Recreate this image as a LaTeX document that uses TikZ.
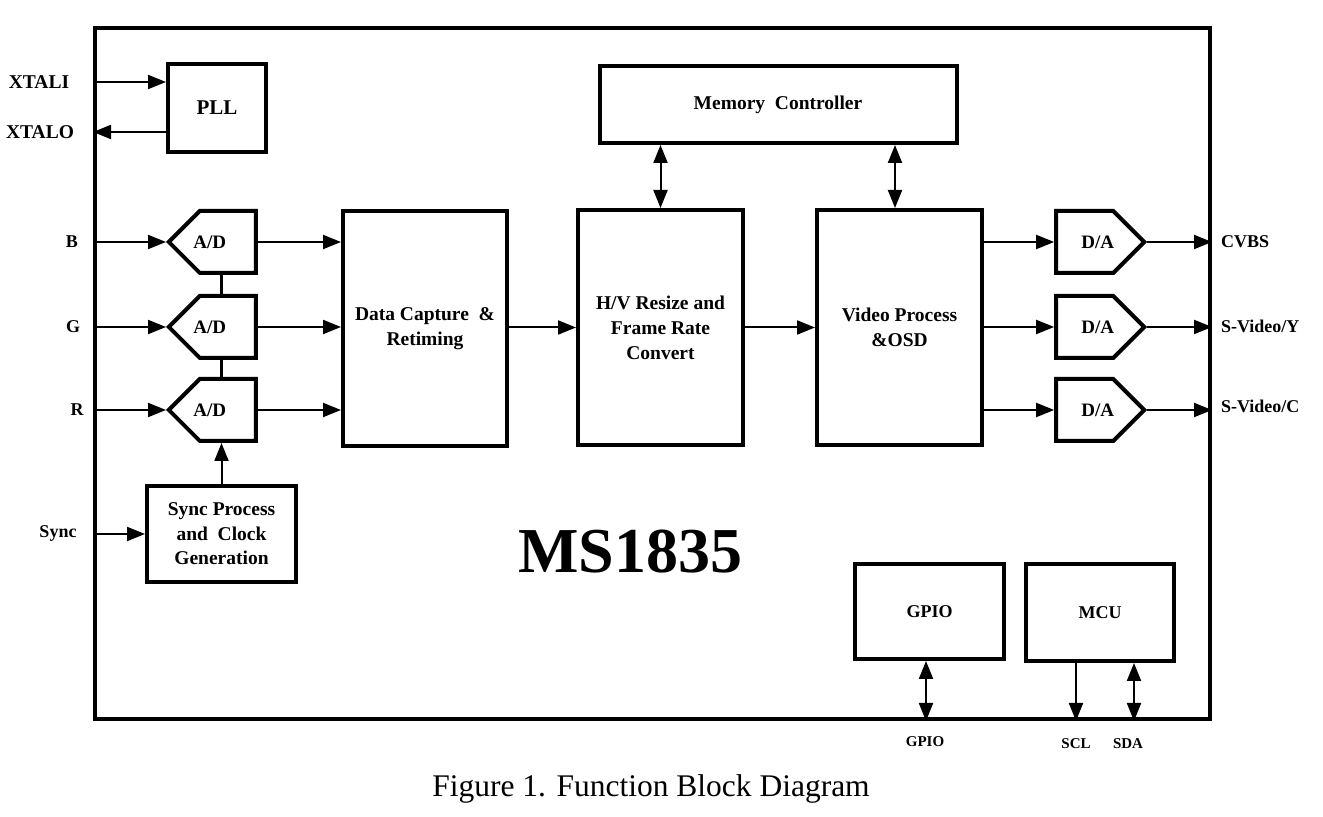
\documentclass[tikz,border=0pt]{standalone}
\usepackage{fontspec}
\setmainfont{Liberation Serif}
\usetikzlibrary{positioning,shapes.symbols,arrows.meta}

\tikzset{
  blk/.style={draw, rectangle, line width=2pt, align=center, font=\fontsize{9.75}{12.5}\selectfont\bfseries},
  conv/.style={draw, signal, line width=2pt, signal pointer angle=90, minimum width=43.5pt, minimum height=31pt},
  convtxt/.style={font=\fontsize{9.5}{11}\selectfont\bfseries},
  pin/.style={font=\fontsize{9}{11}\selectfont\bfseries},
  conn/.style={line width=1pt, -{Triangle[length=9pt,width=7pt]}},
  dconn/.style={line width=1pt, {Triangle[length=9pt,width=7pt]}-{Triangle[length=9pt,width=7pt]}},
}

\begin{document}
\begin{tikzpicture}[x=0.5pt, y=-0.5pt]
  \useasboundingbox (0,0) rectangle (1323,817);
  % chip outline
  \node[draw, rectangle, line width=2pt, minimum width=557.5pt, minimum height=345.5pt] (chip) at (652.5,373.5) {};
  % blocks
  \node[blk, minimum width=49pt, minimum height=44pt, font=\fontsize{10.5}{12}\selectfont\bfseries] (pll) at (217,108) {PLL};
  \node[blk, minimum width=178.5pt, minimum height=38.5pt] (mem) at (778,104.5) {Memory\ \ Controller};
  \node[blk, minimum width=82pt, minimum height=117.5pt] (cap) at (425,328.5) {Data Capture \ \&\\Retiming};
  \node[blk, minimum width=82.5pt, minimum height=117.5pt] (hv) at (660.5,327.5) {H/V Resize and\\Frame Rate\\Convert};
  \node[blk, minimum width=82.5pt, minimum height=117.5pt] (vid) at (899.5,327.5) {Video Process\\\&OSD};
  \node[blk, minimum width=74.5pt, minimum height=48pt, font=\fontsize{9.75}{12.25}\selectfont\bfseries] (sync) at (221.5,534) {Sync Process\\and\ \ Clock\\Generation};
  \node[blk, minimum width=74.5pt, minimum height=47.5pt, font=\fontsize{9}{11}\selectfont\bfseries] (gpio) at (929.5,611.5) {GPIO};
  \node[blk, minimum width=74pt, minimum height=48.5pt, font=\fontsize{9}{11}\selectfont\bfseries] (mcu) at (1100,612.5) {MCU};
  % converters (tip placed on the coordinate)
  \node[conv, signal to=west, anchor=west, label={[convtxt, xshift=-9pt]center:A/D}] (adb) at (166,242) {};
  \node[conv, signal to=west, anchor=west, label={[convtxt, xshift=-9pt]center:A/D}] (adg) at (166,327) {};
  \node[conv, signal to=west, anchor=west, label={[convtxt, xshift=-9pt]center:A/D}] (adr) at (166,410) {};
  \node[conv, signal to=east, anchor=east, minimum width=44pt, label={[convtxt, xshift=6.5pt]center:D/A}] (dab) at (1147,242) {};
  \node[conv, signal to=east, anchor=east, minimum width=44pt, label={[convtxt, xshift=6.5pt]center:D/A}] (dag) at (1147,327) {};
  \node[conv, signal to=east, anchor=east, minimum width=44pt, label={[convtxt, xshift=6.5pt]center:D/A}] (dar) at (1147,410) {};
  % pin labels
  \node[pin, font=\fontsize{9.75}{11}\selectfont\bfseries] (xtali) at (39,82) {XTALI};
  \node[pin, font=\fontsize{9.75}{11}\selectfont\bfseries] (xtalo) at (40,132) {XTALO};
  \node[pin] (inb) at (72,242) {B};
  \node[pin] (ing) at (73,327) {G};
  \node[pin] (inr) at (77,410) {R};
  \node[pin] (insync) at (58,533) {Sync};
  \node[pin, anchor=west] (cvbs) at (1214,242) {CVBS};
  \node[pin, anchor=west] (svy) at (1214,326) {S-Video/Y};
  \node[pin, anchor=west] (svc) at (1214,406) {S-Video/C};
  \node[pin, font=\fontsize{7.5}{9}\selectfont\bfseries] (pgpio) at (925,742) {GPIO};
  \node[pin, font=\fontsize{7.5}{9}\selectfont\bfseries] (scl) at (1076,744) {SCL};
  \node[pin, font=\fontsize{7.5}{9}\selectfont\bfseries] (sda) at (1128,744) {SDA};
  % titles
  \node[font=\fontsize{32}{36}\selectfont\bfseries, anchor=base] (title) at (630,573) {MS1835};
  \node[font=\fontsize{15.75}{18}\selectfont, anchor=base] (caption) at (651,797) {Figure 1. Function Block Diagram};
  % connectors
  \draw[conn] (chip.west |- xtali) -- (pll.west |- xtali);
  \draw[conn] (pll.west |- xtalo) -- (chip.west |- xtalo);
  \draw[conn] (chip.west |- adb.west) -- (adb.west);
  \draw[conn] (chip.west |- adg.west) -- (adg.west);
  \draw[conn] (chip.west |- adr.west) -- (adr.west);
  \draw[conn] (chip.west |- sync) -- (sync.west);
  \draw[conn] (sync.north) -- (sync.north |- adr.south);
  \draw[line width=1.6pt] (adb.south -| sync.north) -- (adg.north -| sync.north);
  \draw[line width=1.6pt] (adg.south -| sync.north) -- (adr.north -| sync.north);
  \draw[conn] (adb.east) -- (cap.west |- adb.east);
  \draw[conn] (adg.east) -- (cap.west |- adg.east);
  \draw[conn] (adr.east) -- (cap.west |- adr.east);
  \draw[conn] (cap.east |- hv) -- (hv.west);
  \draw[conn] (hv.east) -- (vid.west);
  \draw[dconn] (mem.south -| hv.north) -- (hv.north);
  \draw[dconn] (mem.south -| 895,0) -- (vid.north -| 895,0);
  \draw[conn] (vid.east |- dab.west) -- (dab.west);
  \draw[conn] (vid.east |- dag.west) -- (dag.west);
  \draw[conn] (vid.east |- dar.west) -- (dar.west);
  \draw[conn] (dab.east) -- (chip.east |- dab.east);
  \draw[conn] (dag.east) -- (chip.east |- dag.east);
  \draw[conn] (dar.east) -- (chip.east |- dar.east);
  \draw[dconn] (gpio.south -| 926,0) -- (chip.south -| 926,0);
  \draw[conn] (mcu.south -| 1076,0) -- (chip.south -| 1076,0);
  \draw[dconn] (mcu.south -| 1134,0) -- (chip.south -| 1134,0);
\end{tikzpicture}
\end{document}
